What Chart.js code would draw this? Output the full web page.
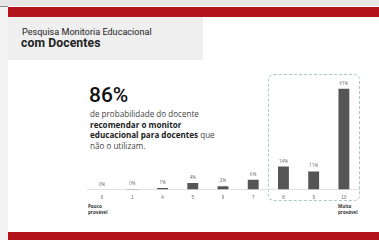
<!DOCTYPE html>
<html><head><meta charset="utf-8">
<script src="https://cdn.jsdelivr.net/npm/chart.js@4/dist/chart.umd.min.js"></script>
<style>
html,body{margin:0;padding:0;width:379px;height:240px;overflow:hidden;background:#f3f3f3;font-family:Roboto,"Open Sans",sans-serif;}
#card{position:absolute;left:8px;top:6px;width:371px;height:234px;background:#fff;}
#topbar{position:absolute;left:0;top:0;width:379px;height:6px;background:#e6e6e6;border-bottom:1px solid #8a8a8a;}
#red1{position:absolute;left:8px;top:7px;width:371px;height:10px;background:#b3141b;}
#red2{position:absolute;left:8px;top:232px;width:371px;height:8px;background:#b3141b;}
#head{position:absolute;left:8px;top:17px;width:195px;height:43px;background:#efefef;}
#t1{position:absolute;left:22px;top:27px;font-size:9.1px;color:#222;font-family:"Liberation Sans Narrow",Roboto,sans-serif;}
#t2{position:absolute;left:21px;top:36px;font-size:12.2px;font-weight:bold;color:#222;font-family:"Liberation Sans Narrow",Roboto,sans-serif;letter-spacing:0.1px;}
#big{position:absolute;left:89px;top:83px;font-size:21px;font-weight:500;color:#111;font-family:Roboto,sans-serif;}
#desc{position:absolute;left:90px;top:109px;font-size:8.1px;line-height:10.5px;color:#444;font-family:"Open Sans",sans-serif;width:125px;}
#desc b{color:#222;}
#box{position:absolute;left:268px;top:74px;width:90px;height:125px;border:1px dashed #a9c9c6;border-radius:6px;}
.lab{position:absolute;font-size:4.5px;line-height:5.5px;color:#333;font-weight:bold;font-family:"Open Sans",sans-serif;}
#c{position:absolute;left:82px;top:70px;}
</style></head><body>
<div id="topbar"></div>
<div id="card"></div>
<div id="red1"></div>
<div id="red2"></div>
<div id="head"></div>
<div id="t1">Pesquisa Monitoria Educacional</div>
<div id="t2">com Docentes</div>
<div id="big">86%</div>
<div id="desc">de probabilidade do docente <b>recomendar o monitor educacional para docentes</b> que não o utilizam.</div>
<div id="box"></div>
<div class="lab" style="left:88px;top:204px;">Pouco<br>provável</div>
<div class="lab" style="left:338px;top:204px;">Muito<br>provável</div>
<canvas id="c" width="282" height="135" style="width:282px;height:135px;"></canvas>
<script>
const categories = ["0","1","4","5","6","7","8","9","10"];
const values = [0, 0.3, 1, 4, 2, 6, 14, 11, 61];
const valueLabels = ["0%","0%","1%","4%","2%","6%","14%","11%","61%"];

const labelPlugin = {
  id:'vlabels',
  afterDatasetsDraw(chart){
    const ctx = chart.ctx;
    const meta = chart.getDatasetMeta(0);
    ctx.save();
    ctx.font = '4.5px "Open Sans", sans-serif';
    ctx.fillStyle = '#666';
    ctx.textAlign = 'center';
    ctx.textBaseline = 'bottom';
    meta.data.forEach((bar,i)=>{
      ctx.fillText(valueLabels[i], bar.x, bar.y - 3);
    });
    ctx.restore();
  }
};

new Chart(document.getElementById('c'), {
  type:'bar',
  data:{labels:categories, datasets:[{data:values, backgroundColor:'#555555', barPercentage:0.36, categoryPercentage:1}]},
  options:{
    responsive:false, animation:false, devicePixelRatio:1,
    plugins:{legend:{display:false}, tooltip:{enabled:false}},
    layout:{padding:{left:5,right:5,top:4,bottom:0}},
    scales:{
      x:{grid:{display:false, drawTicks:false}, border:{display:true,color:'#e2e2e2',width:1},
         ticks:{font:{size:4.5}, color:'#666', padding:5}},
      y:{display:false, min:0, max:70}
    }
  },
  plugins:[labelPlugin]
});
</script>
</body></html>
